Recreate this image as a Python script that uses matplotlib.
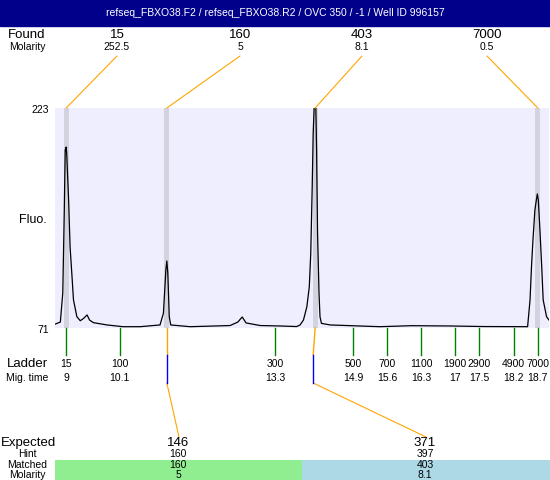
import matplotlib
matplotlib.use("Agg")
import matplotlib.pyplot as plt
import matplotlib.transforms as mtransforms
from matplotlib.lines import Line2D
from matplotlib.patches import Rectangle, ConnectionPatch

plt.rcParams["font.family"] = ["Liberation Sans", "DejaVu Sans"]

# ── Data ──────────────────────────────────────────────────────────────────────

TITLE = "refseq_FBXO38.F2 / refseq_FBXO38.R2 / OVC 350 / -1 / Well ID 996157"

# electropherogram trace: migration time (min) vs fluorescence
trace_time = [8.78, 8.88, 8.93, 8.96, 8.98, 9.00, 9.01, 9.05, 9.08, 9.12, 9.15,
              9.22, 9.29, 9.36, 9.43, 9.48, 9.56, 9.84, 10.17, 10.52, 10.93,
              11.00, 11.05, 11.07, 11.09, 11.12, 11.15, 11.55, 12.37, 12.53,
              12.62, 12.70, 12.99, 13.40, 13.74, 13.81, 13.88, 13.95, 14.00,
              14.03, 14.06, 14.08, 14.11, 14.13, 14.15, 14.17, 14.20, 14.22,
              14.25, 14.43, 15.45, 16.10, 16.89, 17.60, 18.49, 18.54, 18.57,
              18.60, 18.64, 18.67, 18.69, 18.71, 18.74, 18.78, 18.81, 18.88,
              18.93]
trace_fluo = [73.8, 75.1, 95.2, 150.5, 194.0, 196.0, 191.9, 159.5, 127.2, 106.5,
              90.4, 78.8, 76.0, 77.7, 80.0, 76.5, 74.7, 73.1, 71.9, 71.9, 73.1,
              81.2, 111.1, 117.3, 109.0, 78.8, 73.1, 71.9, 72.7, 75.1, 78.6,
              74.5, 72.7, 72.4, 72.0, 73.1, 76.5, 85.7, 99.5, 122.6, 168.6,
              205.6, 232.0, 232.0, 194.0, 136.4, 95.0, 78.8, 74.2, 73.1, 71.9,
              72.6, 72.4, 72.0, 71.9, 90.4, 113.4, 131.8, 152.5, 159.5, 163.6,
              159.5, 141.0, 113.4, 90.4, 78.8, 76.5]

fluo_range = [71, 223]
time_range = [8.77, 18.93]

ladder_size = [15, 100, 300, 500, 700, 1100, 1900, 2900, 4900, 7000]
ladder_time = [9, 10.1, 13.3, 14.9, 15.6, 16.3, 17, 17.5, 18.2, 18.7]

found_size     = [15, 160, 403, 7000]
found_molarity = [252.5, 5, 8.1, 0.5]
found_time     = [9.0, 11.07, 14.12, 18.70]

expected_size    = [146, 371]
hint_size        = [160, 397]
hint_time        = [11.07, 14.08]
matched_size     = [160, 403]
matched_molarity = [5, 8.1]
matched_time     = [11.07, 14.12]

# ── Layout (pixels) ───────────────────────────────────────────────────────────

W, H = 550, 480
PLOT_L, PLOT_R, PLOT_T, PLOT_B = 55, 549, 108, 328
FOUND_X    = [117, 240, 362, 487]
EXPECTED_X = [178, 425]

ORANGE = "#FFA500"
GREEN  = "#008000"
BLUE   = "#0000FF"
BIG, SMALL = 9.5, 7.5


def fx(x):
    return x / W


def fy(y):
    return 1 - y / H


fig = plt.figure(figsize=(W / 100, H / 100), dpi=100)

# title bar
fig.add_artist(Rectangle((0, fy(26)), 1, 26 / H, transform=fig.transFigure,
                         color="#00008B", zorder=0))
fig.text(0.5, fy(13), TITLE, color="white", fontsize=SMALL,
         ha="center", va="center")

# main trace
ax = fig.add_axes([fx(PLOT_L), fy(PLOT_B), (PLOT_R - PLOT_L) / W,
                   (PLOT_B - PLOT_T) / H])
ax.set_facecolor("#EEEEFF")
ax.set_xlim(time_range)
ax.set_ylim(fluo_range)
for t in found_time:
    ax.axvspan(t - 0.05, t + 0.05, color="#D3D3E0", lw=0)
ax.plot(trace_time, trace_fluo, color="black", lw=0.9)
ax.set_xticks([])
ax.set_yticks([])
for s in ax.spines.values():
    s.set_visible(False)

fig.text(fx(49), fy(PLOT_T + 2), str(fluo_range[1]), fontsize=SMALL,
         ha="right", va="center")
fig.text(fx(49), fy(PLOT_B + 2), str(fluo_range[0]), fontsize=SMALL,
         ha="right", va="center")
fig.text(fx(33), fy(220), "Fluo.", fontsize=9, ha="center", va="center")

trans = mtransforms.blended_transform_factory(ax.transData, fig.transFigure)

# found peaks
fig.text(fx(27), fy(35), "Found", fontsize=BIG, ha="center", va="center")
fig.text(fx(27), fy(47), "Molarity", fontsize=SMALL, ha="center", va="center")
for i, t in enumerate(found_time):
    fig.text(fx(FOUND_X[i]), fy(35), str(found_size[i]), fontsize=BIG,
             ha="center", va="center")
    fig.text(fx(FOUND_X[i]), fy(47), str(found_molarity[i]), fontsize=SMALL,
             ha="center", va="center")
    fig.add_artist(ConnectionPatch(
        xyA=(fx(FOUND_X[i]), fy(56)), coordsA=fig.transFigure,
        xyB=(t, fy(PLOT_T)), coordsB=trans,
        color=ORANGE, lw=0.8))

# ladder
fig.text(fx(27), fy(364), "Ladder", fontsize=BIG, ha="center", va="center")
fig.text(fx(27), fy(378), "Mig. time", fontsize=SMALL, ha="center", va="center")
for size, t in zip(ladder_size, ladder_time):
    fig.add_artist(Line2D([t, t], [fy(PLOT_B), fy(355)], transform=trans,
                          color=GREEN, lw=1.0))
    ax.text(t, fy(364), str(size), transform=trans, fontsize=SMALL,
            ha="center", va="center")
    ax.text(t, fy(378), f"{t:g}", transform=trans, fontsize=SMALL,
            ha="center", va="center")

# expected / matched
for i in range(len(expected_size)):
    fig.add_artist(Line2D([matched_time[i], hint_time[i]],
                          [fy(PLOT_B), fy(355)], transform=trans,
                          color=ORANGE, lw=1.0))
    fig.add_artist(Line2D([hint_time[i], hint_time[i]], [fy(355), fy(383)],
                          transform=trans, color=BLUE, lw=1.0))
    fig.add_artist(ConnectionPatch(
        xyA=(hint_time[i], fy(383)), coordsA=trans,
        xyB=(fx(EXPECTED_X[i] + 1), fy(437)), coordsB=fig.transFigure,
        color=ORANGE, lw=0.8))

band = mtransforms.blended_transform_factory(ax.transAxes, fig.transFigure)
fig.add_artist(Rectangle((0, 0), 0.5, fy(460), transform=band,
                         color="#90EE90", lw=0, zorder=0))
fig.add_artist(Rectangle((0.5, 0), 0.51, fy(460), transform=band,
                         color="#ADD8E6", lw=0, zorder=0))

fig.text(fx(1), fy(443), "Expected", fontsize=BIG, ha="left", va="center")
fig.text(fx(27), fy(454), "Hint", fontsize=SMALL, ha="center", va="center")
fig.text(fx(27), fy(465), "Matched", fontsize=SMALL, ha="center", va="center")
fig.text(fx(27), fy(475), "Molarity", fontsize=SMALL, ha="center", va="center")
for i in range(len(expected_size)):
    x = fx(EXPECTED_X[i])
    fig.text(x, fy(443), str(expected_size[i]), fontsize=BIG,
             ha="center", va="center")
    fig.text(x, fy(454), str(hint_size[i]), fontsize=SMALL,
             ha="center", va="center")
    fig.text(x, fy(465), str(matched_size[i]), fontsize=SMALL,
             ha="center", va="center")
    fig.text(x, fy(475), f"{matched_molarity[i]:g}", fontsize=SMALL,
             ha="center", va="center")

fig.savefig("out.png", dpi=100)
